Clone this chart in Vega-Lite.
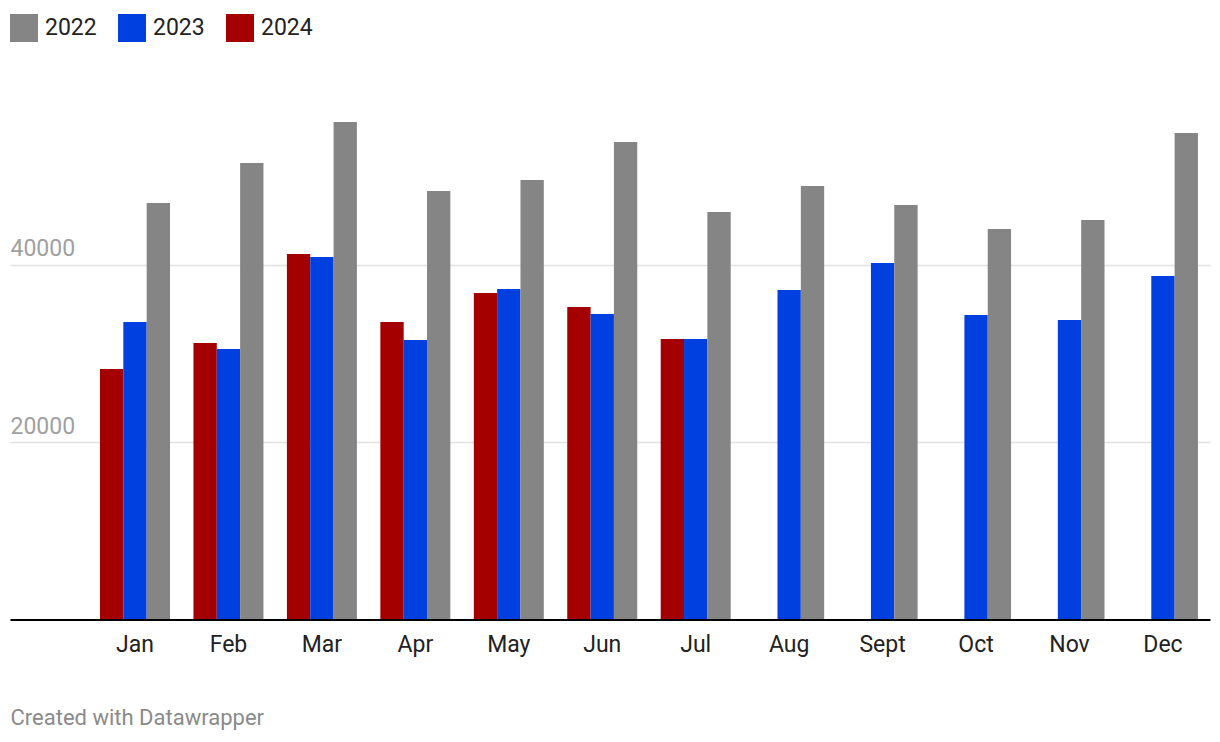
{
  "$schema": "https://vega.github.io/schema/vega-lite/v6.json",
  "width": 1200,
  "height": 497.5,
  "autosize": {"type": "none"},
  "padding": {"left": 10, "top": 122, "right": 10, "bottom": 122.5},
  "background": "white",
  "config": {"view": {"stroke": null}, "font": "Roboto"},
  "data": {
    "values": [
      {"month": "Jan", "year": "2024", "value": 28226},
      {"month": "Jan", "year": "2023", "value": 33522},
      {"month": "Jan", "year": "2022", "value": 46931},
      {"month": "Feb", "year": "2024", "value": 31156},
      {"month": "Feb", "year": "2023", "value": 30480},
      {"month": "Feb", "year": "2022", "value": 51438},
      {"month": "Mar", "year": "2024", "value": 41184},
      {"month": "Mar", "year": "2023", "value": 40846},
      {"month": "Mar", "year": "2022", "value": 56058},
      {"month": "Apr", "year": "2024", "value": 33522},
      {"month": "Apr", "year": "2023", "value": 31494},
      {"month": "Apr", "year": "2022", "value": 48283},
      {"month": "May", "year": "2024", "value": 36790},
      {"month": "May", "year": "2023", "value": 37241},
      {"month": "May", "year": "2022", "value": 49523},
      {"month": "Jun", "year": "2024", "value": 35213},
      {"month": "Jun", "year": "2023", "value": 34424},
      {"month": "Jun", "year": "2022", "value": 53805},
      {"month": "Jul", "year": "2024", "value": 31607},
      {"month": "Jul", "year": "2023", "value": 31607},
      {"month": "Jul", "year": "2022", "value": 45917},
      {"month": "Aug", "year": "2023", "value": 37128},
      {"month": "Aug", "year": "2022", "value": 48847},
      {"month": "Sept", "year": "2023", "value": 40170},
      {"month": "Sept", "year": "2022", "value": 46706},
      {"month": "Oct", "year": "2023", "value": 34311},
      {"month": "Oct", "year": "2022", "value": 44002},
      {"month": "Nov", "year": "2023", "value": 33748},
      {"month": "Nov", "year": "2022", "value": 45016},
      {"month": "Dec", "year": "2023", "value": 38706},
      {"month": "Dec", "year": "2022", "value": 54819}
    ]
  },
  "mark": {"type": "bar"},
  "encoding": {
    "x": {
      "field": "month",
      "type": "nominal",
      "sort": ["Jan", "Feb", "Mar", "Apr", "May", "Jun", "Jul", "Aug", "Sept", "Oct", "Nov", "Dec"],
      "scale": {"paddingInner": 0.2509, "paddingOuter": 0.546, "align": 0.882, "round": false},
      "axis": {
        "title": "Created with Datawrapper",
        "titleX": 0,
        "titleY": 104.5,
        "titleAlign": "left",
        "titleAnchor": "start",
        "titleBaseline": "alphabetic",
        "titleFontSize": 22,
        "titleFontWeight": "normal",
        "titleColor": "#8a8a8a",
        "labelAngle": 0,
        "labelFontSize": 23,
        "labelColor": "#222222",
        "labelPadding": 14,
        "ticks": false,
        "tickSize": 0,
        "domainColor": "#000000",
        "domainWidth": 2,
        "grid": false,
        "zindex": 1
      }
    },
    "xOffset": {
      "field": "year",
      "type": "nominal",
      "sort": "descending",
      "scale": {"paddingInner": 0, "paddingOuter": 0}
    },
    "y": {
      "field": "value",
      "type": "quantitative",
      "scale": {"nice": false, "zero": true},
      "axis": {
        "title": null,
        "values": [20000, 40000],
        "format": "d",
        "domain": false,
        "ticks": false,
        "tickSize": 0,
        "labelAlign": "left",
        "labelBaseline": "alphabetic",
        "labelPadding": 0,
        "labelOffset": -9,
        "labelFontSize": 23,
        "labelColor": "#a0a0a0",
        "gridColor": "#e2e2e2",
        "gridWidth": 1.5
      }
    },
    "color": {
      "field": "year",
      "type": "nominal",
      "scale": {"domain": ["2022", "2023", "2024"], "range": ["#858585", "#0040e0", "#a50000"]},
      "legend": {
        "title": null,
        "orient": "none",
        "legendX": 0,
        "legendY": -108,
        "direction": "horizontal",
        "symbolType": "square",
        "symbolSize": 784,
        "symbolStrokeWidth": 0,
        "symbolOpacity": 1,
        "labelFontSize": 23,
        "labelColor": "#222222",
        "labelOffset": 7,
        "columnPadding": 21,
        "labelLimit": 200
      }
    }
  }
}
